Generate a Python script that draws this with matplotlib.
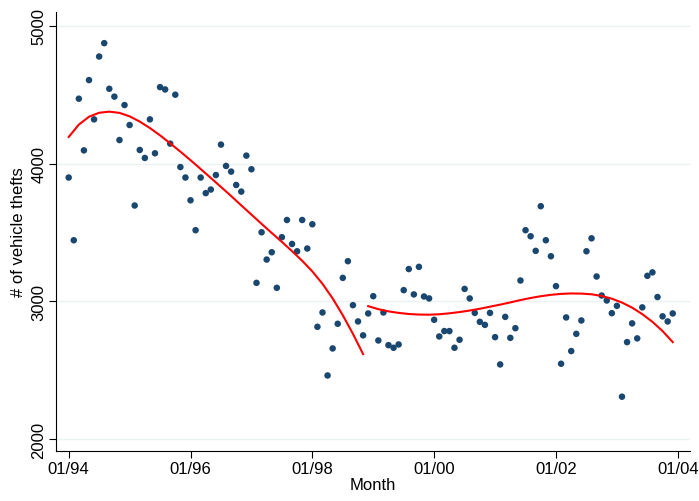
import numpy as np
import matplotlib
matplotlib.use("Agg")
import matplotlib.pyplot as plt

# Monthly vehicle thefts, Jan 1994 - Dec 2003
thefts_1994 = [3899, 3444, 4471, 4096, 4606, 4321, 4777, 4874, 4543, 4486, 4171, 4425]
thefts_1995 = [4280, 3696, 4099, 4041, 4321, 4075, 4555, 4538, 4145, 4500, 3975, 3899]
thefts_1996 = [3734, 3517, 3899, 3786, 3812, 3917, 4138, 3983, 3942, 3845, 3797, 4058]
thefts_1997 = [3959, 3135, 3502, 3304, 3357, 3099, 3466, 3591, 3417, 3364, 3591, 3384]
thefts_1998 = [3560, 2816, 2920, 2463, 2659, 2838, 3171, 3292, 2973, 2855, 2754, 2913]
thefts_1999 = [3038, 2717, 2920, 2683, 2664, 2688, 3082, 3235, 3051, 3251, 3036, 3022]
thefts_2000 = [2867, 2746, 2785, 2785, 2664, 2722, 3091, 3022, 2917, 2852, 2830, 2917]
thefts_2001 = [2741, 2543, 2888, 2736, 2806, 3152, 3517, 3473, 3367, 3691, 3444, 3328]
thefts_2002 = [3111, 2548, 2884, 2640, 2765, 2862, 3364, 3458, 3181, 3043, 3007, 2915]
thefts_2003 = [2968, 2309, 2705, 2841, 2732, 2957, 3186, 3211, 3032, 2892, 2855, 2913]

# Fitted trend (red curves), months since 01/94 and values
fit_pre_month = [0, 2, 4, 6, 8, 10, 12, 14, 16, 18, 20, 22, 24, 26, 28, 30,
                 32, 34, 36, 38, 40, 42, 44, 46, 48, 50, 52, 54, 56, 58]
fit_pre_value = [4193, 4283, 4340, 4369, 4377, 4368, 4343, 4305, 4258, 4205, 4147, 4087,
                 4025, 3961, 3896, 3831, 3765, 3697, 3630, 3563, 3497, 3432, 3365, 3295,
                 3218, 3128, 3022, 2900, 2765, 2618]
fit_post_month = [59, 61, 63, 65, 67, 69, 71, 73, 75, 77, 79, 81, 83, 85, 87, 89,
                  91, 93, 95, 97, 99, 101, 103, 105, 107, 109, 111, 113, 115, 117, 119]
fit_post_value = [2966, 2944, 2928, 2917, 2909, 2905, 2904, 2907, 2914, 2923, 2934, 2947,
                  2962, 2977, 2993, 3010, 3025, 3038, 3048, 3055, 3058, 3057, 3052, 3040,
                  3020, 2992, 2955, 2908, 2852, 2785, 2705]

tick_labels = ["01/94", "01/96", "01/98", "01/00", "01/02", "01/04"]
y_ticks = [2000, 3000, 4000, 5000]

values = np.array(thefts_1994 + thefts_1995 + thefts_1996 + thefts_1997 + thefts_1998 +
                  thefts_1999 + thefts_2000 + thefts_2001 + thefts_2002 + thefts_2003, float)
months = np.arange(len(values))

plt.rcParams['font.family'] = ['Liberation Sans', 'DejaVu Sans']

fig = plt.figure(figsize=(6.99, 5.02), dpi=100)
ax = fig.add_axes([56/699, 50/502, (690-56)/699, (452-13)/502])

navy = '#1a476f'
grid = '#eaf2f3'

for yt in y_ticks:
    ax.axhline(yt, color=grid, lw=1.0, zorder=0)

ax.scatter(months, values, s=22, color=navy, edgecolors='none', zorder=3)

ax.plot(fit_pre_month, fit_pre_value, color='red', lw=1.5, zorder=4,
        solid_joinstyle='round')
ax.plot(fit_post_month, fit_post_value, color='red', lw=1.5, zorder=4,
        solid_joinstyle='round')

ax.set_xlim(-2.5, 122.4)
ax.set_ylim(1915, 5100)
ax.set_xticks(np.arange(0, 121, 24))
ax.set_xticklabels(tick_labels, fontsize=12)
ax.set_yticks(y_ticks)
ax.set_yticklabels([str(t) for t in y_ticks], fontsize=12, rotation=90, va='center')
ax.tick_params(direction='out', length=5, width=0.8, color='black', pad=2)
for s in ['top', 'right']:
    ax.spines[s].set_visible(False)
for s in ['left', 'bottom']:
    ax.spines[s].set_linewidth(0.8)
ax.set_xlabel('Month', fontsize=12, labelpad=1)
ax.set_ylabel('# of vehicle thefts', fontsize=12, labelpad=4)

fig.savefig('out.png', dpi=100)
